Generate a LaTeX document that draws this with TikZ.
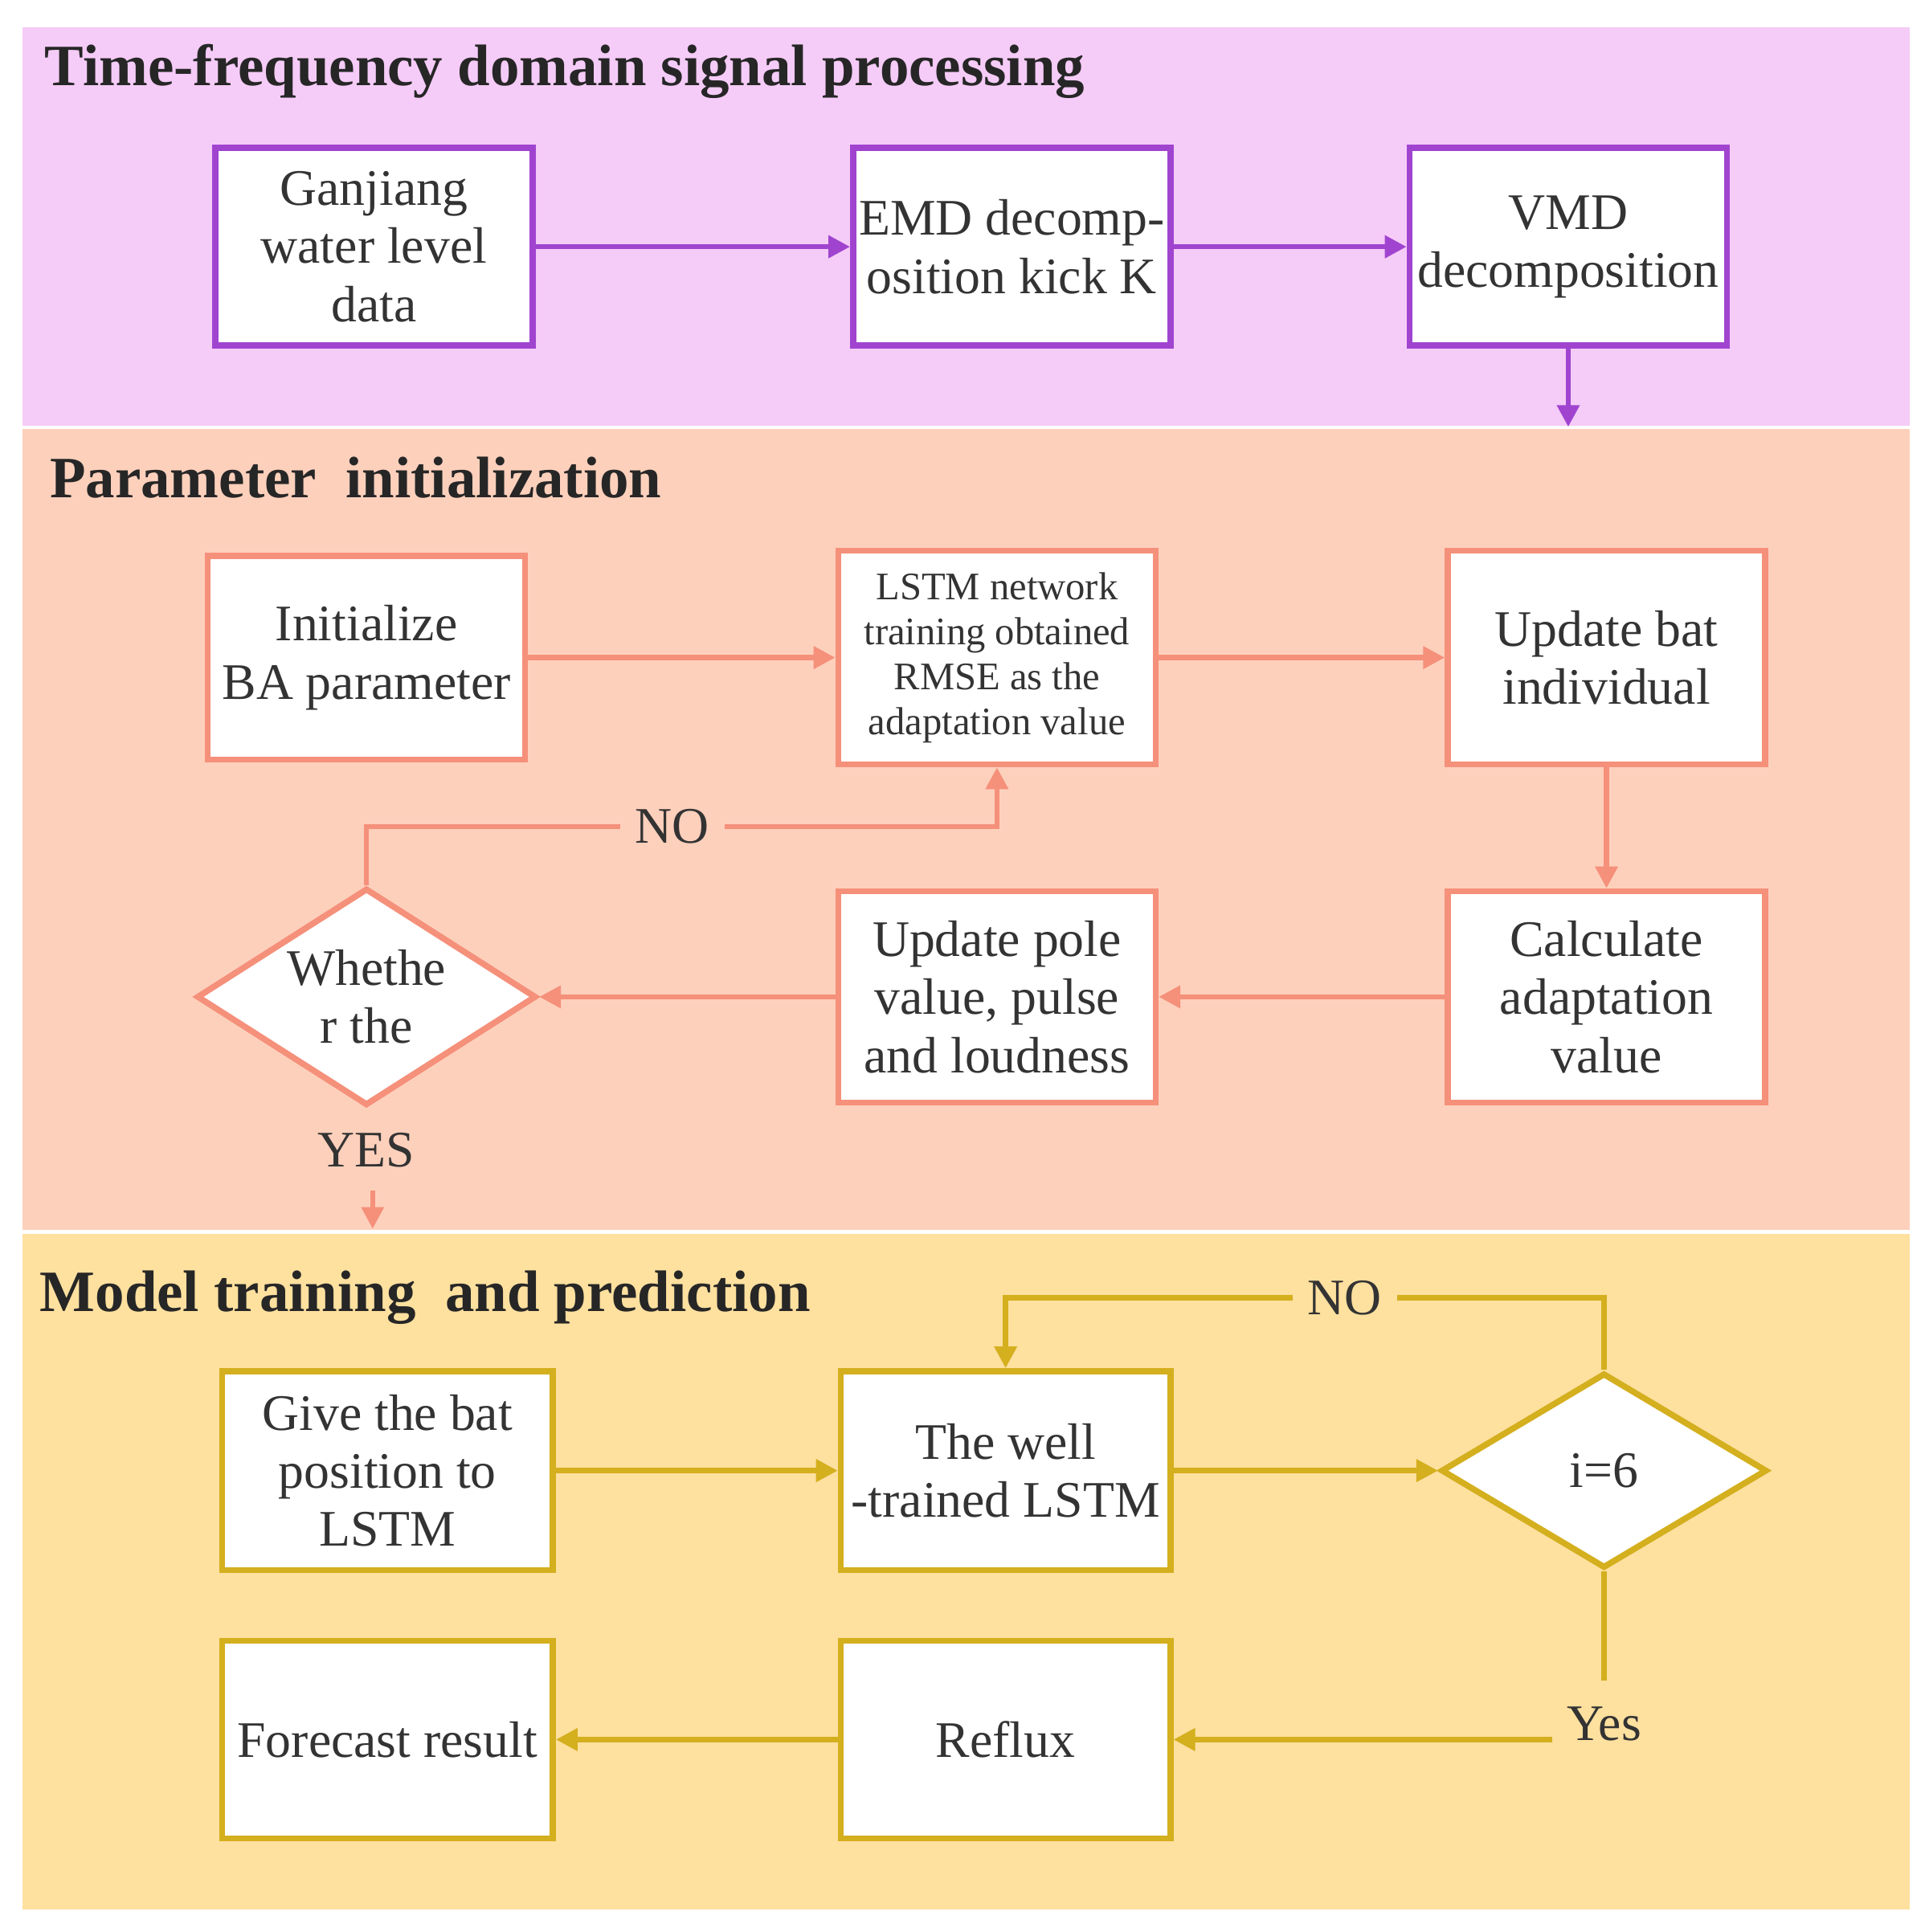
\documentclass[tikz,border=0pt]{standalone}
\usepackage{fontspec}
\setmainfont{Liberation Serif}
\usetikzlibrary{shapes.geometric,arrows.meta}
\definecolor{pv}{HTML}{A044D0}\definecolor{pvf}{HTML}{F5CBF7}
\definecolor{sa}{HTML}{F5907A}\definecolor{saf}{HTML}{FDD0BC}
\definecolor{go}{HTML}{D4AF1E}\definecolor{gof}{HTML}{FEE09F}
\definecolor{tx}{HTML}{333333}
\begin{document}
\begin{tikzpicture}[x=0.01cm,y=-0.01cm,
 box/.style={draw,line width=1.4pt,fill=white,align=center,text=tx,font=\fontsize{11.8}{13.4}\selectfont,minimum width=2.57cm,minimum height=1.6cm,inner sep=1pt},
 dia/.style={draw,line width=1.4pt,fill=white,diamond,align=center,text=tx,font=\fontsize{11.8}{13.4}\selectfont,minimum width=2.75cm,minimum height=1.76cm,aspect=1.56,inner sep=0pt},
 arr/.style={line width=1.2pt,-{Triangle[length=5pt,width=5pt]}},
 lbl/.style={draw=none,text=tx,font=\fontsize{11.8}{13.4}\selectfont},
 ttl/.style={anchor=west,text=black!85,font=\fontsize{13.5}{15}\bfseries\selectfont}]
\useasboundingbox (0,0) rectangle (1560,1566);
\fill[pvf] (18,22) rectangle (1548,345);
\fill[saf] (18,348) rectangle (1548,997);
\fill[gof] (18,1000) rectangle (1548,1548);
\node[ttl] (t1) at (24,58) {Time-frequency domain signal processing};
\node[ttl] (t2) at (28,387) {Parameter\ \ initialization};
\node[ttl] (t3) at (20,1052) {Model training\ \ and prediction};
% band 1
\begin{scope}[pv]
\node[box,draw=pv] (g) at (303,200) {Ganjiang\\water level\\data};
\node[box,draw=pv] (e) at (820,200) {EMD decomp-\\osition kick K};
\node[box,draw=pv] (v) at (1271,200) {VMD\\decomposition};
\coordinate (ve) at (1271,346);
\draw[arr] (g) -- (e); \draw[arr] (e) -- (v); \draw[arr] (v) -- (ve);
\end{scope}
% band 2
\begin{scope}[sa]
\node[box,draw=sa,minimum height=1.65cm] (i) at (297,533) {Initialize\\BA parameter};
\node[box,draw=sa,minimum height=1.73cm,font=\fontsize{9}{10.4}\selectfont] (l) at (808,533) {LSTM network\\training obtained\\RMSE as the\\adaptation value};
\node[box,draw=sa,minimum height=1.73cm] (u) at (1302,533) {Update bat\\individual};
\node[box,draw=sa,minimum height=1.71cm] (c) at (1302,808) {Calculate\\adaptation\\value};
\node[box,draw=sa,minimum height=1.71cm] (p) at (808,808) {Update pole\\value, pulse\\and loudness};
\node[dia,draw=sa] (d) at (297,808) {Whethe\\r the};
\draw[arr] (i) -- (l); \draw[arr] (l) -- (u); \draw[arr] (u) -- (c);
\draw[arr] (c) -- (p); \draw[arr] (p) -- (d);
\node[lbl] (no1) at (545,670) {NO};
\draw[line width=1.2pt] (d.north) |- (no1.west);
\draw[arr] (no1.east) -| (l.south);
\node[lbl] (yes1) at (297,932) {YES};
\coordinate (ya) at (302,965); \coordinate (yb) at (302,996);
\draw[arr] (ya) -- (yb);
\end{scope}
% band 3
\begin{scope}[go]
\node[box,draw=go,minimum width=2.68cm,minimum height=1.61cm] (gb) at (314,1192) {Give the bat\\position to\\LSTM};
\node[box,draw=go,minimum width=2.67cm,minimum height=1.61cm] (w) at (815,1192) {The well\\-trained LSTM};
\node[dia,draw=go,minimum width=2.64cm,minimum height=1.58cm] (q) at (1300,1192) {i=6};
\node[box,draw=go,minimum width=2.68cm,minimum height=1.6cm] (f) at (314,1410) {Forecast result};
\node[box,draw=go,minimum width=2.67cm,minimum height=1.6cm] (r) at (815,1410) {Reflux};
\draw[arr] (gb) -- (w); \draw[arr] (w) -- (q);
\node[lbl] (no2) at (1090,1052) {NO};
\draw[line width=1.2pt] (q.north) |- (no2.east);
\draw[arr] (no2.west) -| (w.north);
\node[lbl] (yes2) at (1300,1397) {Yes};
\draw[line width=1.2pt] (q.south) -- (1300,1362);
\coordinate (yl) at (1258,1410);
\draw[arr] (yl) -- (r); \draw[arr] (r) -- (f);
\end{scope}
\end{tikzpicture}
\end{document}
